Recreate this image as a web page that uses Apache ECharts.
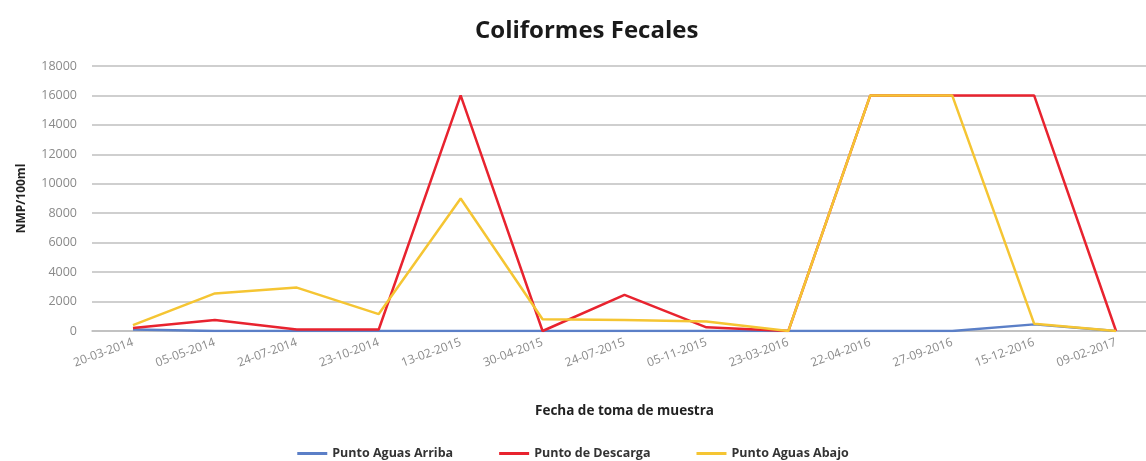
<!DOCTYPE html>
<html>
<head>
<meta charset="utf-8">
<script src="https://cdn.jsdelivr.net/npm/echarts@6/dist/echarts.min.js"></script>
<style>
html,body{margin:0;padding:0;background:#fff;}
#chart{width:1146px;height:461px;}
</style>
</head>
<body>
<div id="chart"></div>
<script>
var categories = ['20-03-2014','05-05-2014','24-07-2014','23-10-2014','13-02-2015','30-04-2015','24-07-2015','05-11-2015','23-03-2016','22-04-2016','27-09-2016','15-12-2016','09-02-2017'];
var aguasArriba = [100, 0, 0, 0, 0, 0, 0, 0, 0, 0, 0, 450, 0];
var descarga = [200, 750, 100, 100, 16000, 0, 2450, 250, 0, 16000, 16000, 16000, 0];
var aguasAbajo = [400, 2550, 2950, 1150, 9000, 800, 750, 650, 0, 16000, 16000, 500, 0];
var yTicks = {min: 0, max: 18000, interval: 2000};

var chart = echarts.init(document.getElementById('chart'));
var font = 'Open Sans';
chart.setOption({
  animation: false,
  title: {
    text: 'Coliformes Fecales',
    left: 470,
    top: 14,
    textStyle: {fontFamily: font, fontSize: 24, fontWeight: 'bold', color: '#1a1a1a'}
  },
  grid: {left: 92, width: 1065, top: 66, bottom: 130, containLabel: false, outerBoundsMode: 'none'},
  legend: {
    top: 442,
    left: 'center',
    itemWidth: 30,
    itemHeight: 3,
    itemGap: 46,
    icon: 'rect',
    textStyle: {fontFamily: font, fontSize: 12.5, fontWeight: 'bold', color: '#333'},
    data: ['Punto Aguas Arriba', 'Punto de Descarga', 'Punto Aguas Abajo']
  },
  xAxis: {
    type: 'category',
    data: categories,
    boundaryGap: true,
    name: 'Fecha de toma de muestra',
    nameLocation: 'middle',
    nameGap: 73,
    nameTextStyle: {fontFamily: font, fontSize: 13.5, fontWeight: 'bold', color: '#222'},
    axisLine: {show: true, lineStyle: {color: '#bfbfbf', width: 1.5}},
    axisTick: {show: false},
    axisLabel: {rotate: 20, interval: 0, fontFamily: font, fontSize: 12, color: '#8a8a8a', margin: 11}
  },
  yAxis: {
    type: 'value',
    min: yTicks.min,
    max: yTicks.max,
    interval: yTicks.interval,
    name: 'NMP/100ml',
    nameLocation: 'middle',
    nameGap: 64,
    nameTextStyle: {fontFamily: font, fontSize: 12, fontWeight: 'bold', color: '#222'},
    axisLine: {show: false},
    axisTick: {show: false},
    axisLabel: {fontFamily: font, fontSize: 12.5, color: '#8a8a8a', margin: 15, formatter: function (v) { return String(v); }},
    splitLine: {lineStyle: {color: '#bfbfbf', width: 1.5}}
  },
  series: [
    {name: 'Punto Aguas Arriba', type: 'line', data: aguasArriba, symbol: 'none', lineStyle: {color: '#5b7fc7', width: 2.5}, itemStyle: {color: '#5b7fc7'}},
    {name: 'Punto de Descarga', type: 'line', data: descarga, symbol: 'none', lineStyle: {color: '#e8232f', width: 2.5}, itemStyle: {color: '#e8232f'}},
    {name: 'Punto Aguas Abajo', type: 'line', data: aguasAbajo, symbol: 'none', lineStyle: {color: '#f5c533', width: 2.5}, itemStyle: {color: '#f5c533'}}
  ]
});
</script>
</body>
</html>
